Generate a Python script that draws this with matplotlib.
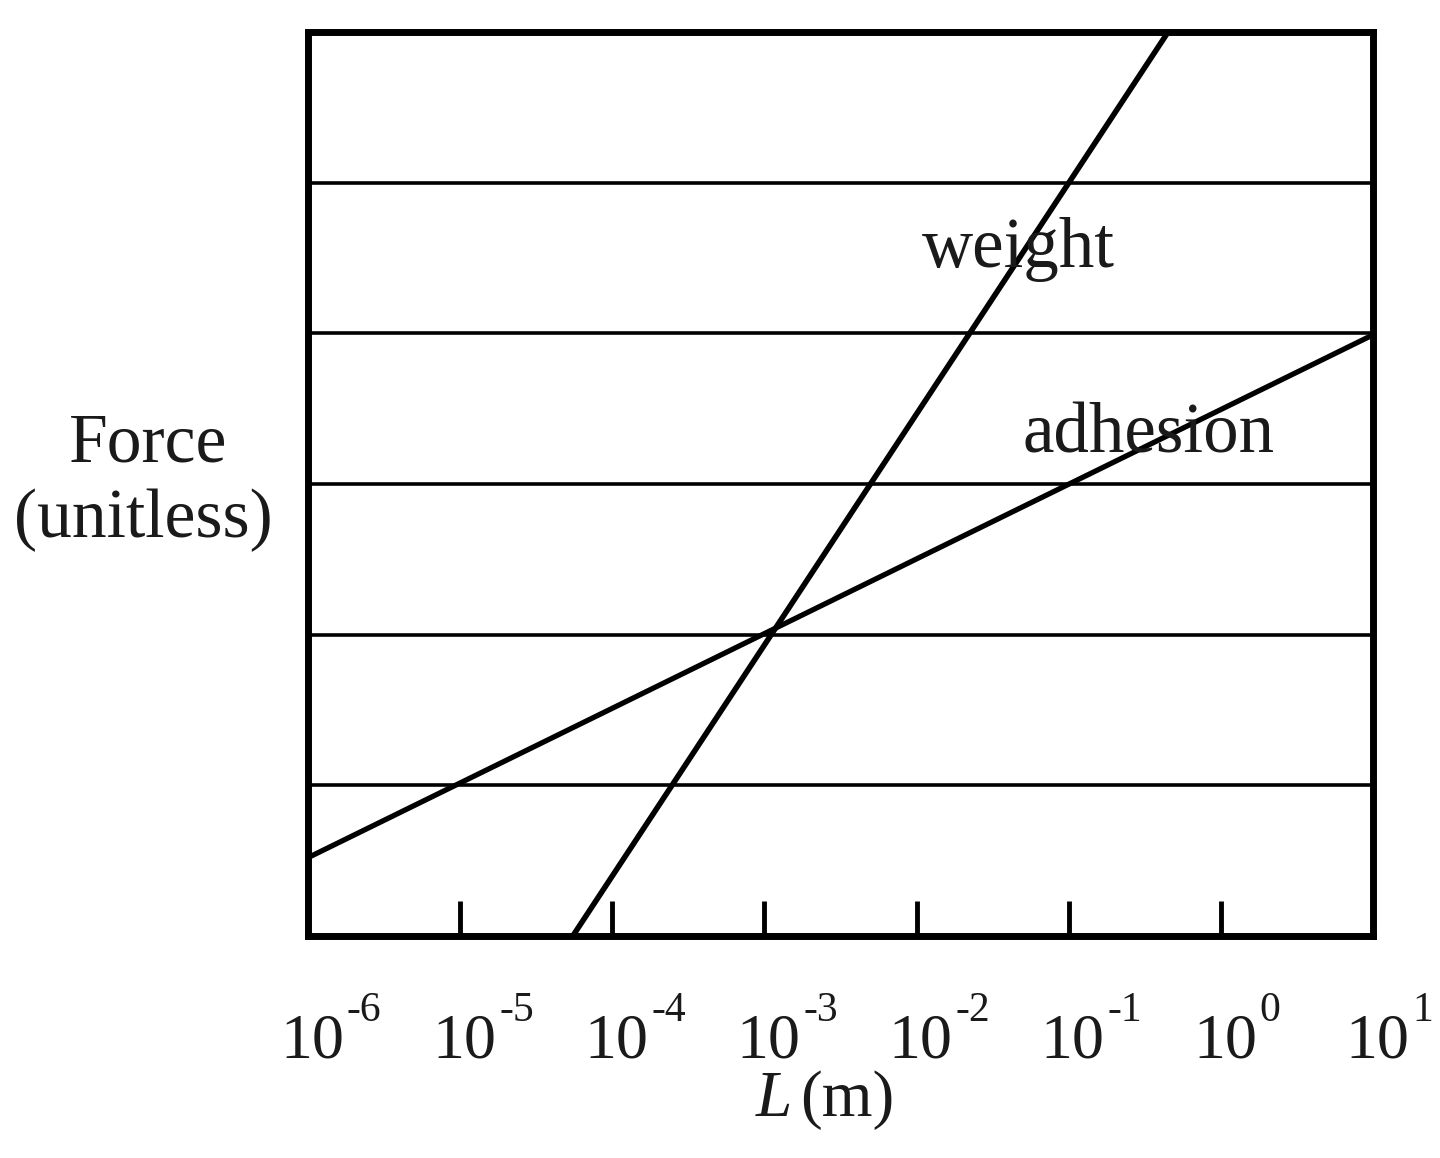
import matplotlib
matplotlib.use("Agg")
import matplotlib.pyplot as plt
import matplotlib.transforms as mtransforms

# ---- data ----
tick_exponents = [-6, -5, -4, -3, -2, -1, 0, 1]
tick_exp_labels = ["-6", "-5", "-4", "-3", "-2", "-1", "0", "1"]
grid_levels = [1, 2, 3, 4, 5]

weight_L = [5.5e-5, 0.45]
weight_F = [0.0, 6.0]

adhesion_L = [1e-6, 1e1]
adhesion_F = [0.52, 3.99]

FONT = "Liberation Serif"
W, H = 1440, 1158

fig = plt.figure(figsize=(W / 100, H / 100), dpi=100)
ax = fig.add_axes([308 / W, 1 - 936 / H, (1373 - 308) / W, (936 - 32) / H])

ax.set_xscale("log")
ax.set_xlim(1e-6, 1e1)
ax.set_ylim(0, 6)

for lvl in grid_levels:
    ax.axhline(lvl, color="black", lw=2.6, zorder=1)

ax.plot(weight_L, weight_F, color="black", lw=4.0, solid_capstyle="butt", zorder=2)
ax.plot(adhesion_L, adhesion_F, color="black", lw=3.8, solid_capstyle="butt", zorder=2)

for s in ax.spines.values():
    s.set_linewidth(5)
    s.set_color("black")

ax.set_xticks([10.0 ** e for e in tick_exponents])
ax.xaxis.set_minor_locator(matplotlib.ticker.NullLocator())
ax.tick_params(axis="x", which="major", direction="in", length=25, width=3.5,
               labelbottom=False, color="black")
ax.set_yticks([])

# tick labels as "10" + raised exponent
blend = mtransforms.blended_transform_factory(ax.transData, fig.transFigure)
for e, lab in zip(tick_exponents, tick_exp_labels):
    xv = 10.0 ** e
    ax.text(xv, 1 - 1057 / H, "10",
            transform=mtransforms.offset_copy(blend, fig=fig, x=4, y=0, units="dots"),
            ha="center", va="baseline", fontsize=46, family=FONT, color="#1a1a1a")
    ax.text(xv, 1 - 1021 / H, lab,
            transform=mtransforms.offset_copy(blend, fig=fig, x=39, y=0, units="dots"),
            ha="left", va="baseline", fontsize=30, family=FONT, color="#1a1a1a")

# x label
fig.text(756 / W, 1 - 1116 / H, "L", fontsize=47, family=FONT, style="italic",
         ha="left", va="baseline", color="#1a1a1a")
fig.text(800 / W, 1 - 1116 / H, "(m)", fontsize=47, family=FONT,
         ha="left", va="baseline", color="#1a1a1a")

# y label
fig.text(148 / W, 1 - 462 / H, "Force", fontsize=50, family=FONT,
         ha="center", va="baseline", color="#1a1a1a")
fig.text(143 / W, 1 - 537 / H, "(unitless)", fontsize=50, family=FONT,
         ha="center", va="baseline", color="#1a1a1a")

# curve labels
ax.text(10 ** -1.963, 4.44, "weight", fontsize=51, family=FONT,
        ha="left", va="baseline", color="#1a1a1a", zorder=3)
ax.text(10 ** -1.306, 3.21, "adhesion", fontsize=51, family=FONT,
        ha="left", va="baseline", color="#1a1a1a", zorder=3)

fig.savefig("out.png", dpi=100, facecolor="white")
